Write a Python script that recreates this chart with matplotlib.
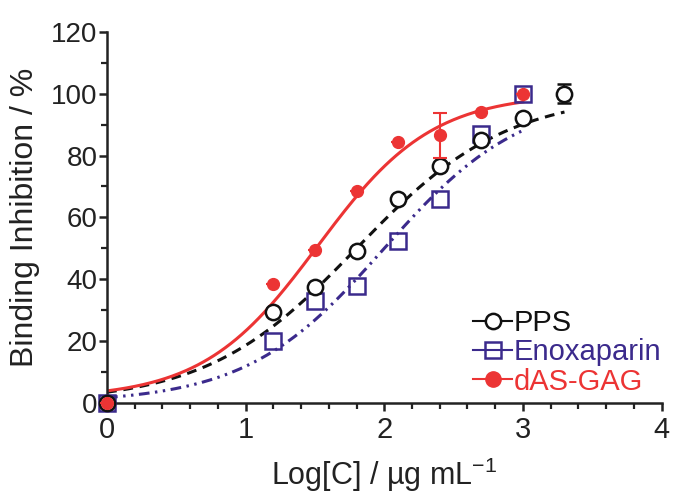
import numpy as np
import matplotlib
matplotlib.use("Agg")
import matplotlib.pyplot as plt
from matplotlib.ticker import MultipleLocator

plt.rcParams['font.family'] = ['Liberation Sans', 'DejaVu Sans']
plt.rcParams['mathtext.fontset'] = 'custom'
plt.rcParams['mathtext.rm'] = 'Liberation Sans'
plt.rcParams['mathtext.it'] = 'Liberation Sans:italic'

# Data (log concentration, % inhibition)
pps_x = [0, 1.2, 1.5, 1.8, 2.1, 2.4, 2.7, 3.0, 3.3]
pps_y = [0, 29.5, 37.5, 49, 66, 76.5, 85, 92, 100]
pps_err = [0, 0, 0, 0, 0, 0, 0, 0, 3]

enox_x = [0, 1.2, 1.5, 1.8, 2.1, 2.4, 2.7, 3.0]
enox_y = [0, 20, 33, 38, 52.5, 66, 87, 100]

das_x = [0, 1.2, 1.5, 1.8, 2.1, 2.4, 2.7, 3.0]
das_y = [0, 38.5, 49.5, 68.5, 84.5, 86.5, 94, 100]
das_err = [0, 0, 0, 0, 0, 7.3, 0, 0]

# Fitted sigmoid parameters (bottom, top, logEC50, hill slope, x-end)
pps_fit = (0, 100, 1.8, 0.8, 3.3)
enox_fit = (0, 100, 2.0, 0.87, 3.0)
das_fit = (1.5, 100, 1.52, 1.05, 3.0)

red = '#EC3434'
purple = '#3B2A8C'
black = '#111111'


def hill(p):
    b, t, ec, h, xe = p
    xs = np.linspace(0, xe, 300)
    return xs, b + (t - b) / (1 + 10 ** ((ec - xs) * h))


fig = plt.figure(figsize=(6.88, 4.97), dpi=100)
ax = fig.add_axes([0.1555, 0.189, 0.806, 0.747])

xs, ys = hill(pps_fit)
ax.plot(xs, ys, color=black, lw=2.2, ls=(0, (3.2, 2.2)), zorder=2)
xs, ys = hill(enox_fit)
ax.plot(xs, ys, color=purple, lw=2.2, ls=(0, (3.5, 1.8, 0.8, 1.8, 0.8, 1.8)), zorder=2)
xs, ys = hill(das_fit)
ax.plot(xs, ys, color=red, lw=2.2, ls='-', zorder=2)

ax.errorbar(pps_x, pps_y, yerr=pps_err, fmt='o', ms=11, mfc='white', mec=black,
            mew=1.8, ecolor=black, elinewidth=1.5, capsize=5, capthick=1.5,
            clip_on=False, zorder=4)
ax.plot(enox_x, enox_y, 's', ms=11, mfc='none', mec=purple, mew=1.8,
        clip_on=False, zorder=3)
ax.errorbar(das_x, das_y, yerr=das_err, fmt='o', ms=8.5, mfc=red, mec=red,
            ecolor=red, elinewidth=1.5, capsize=5, capthick=1.5,
            clip_on=False, zorder=5)

# legend handles
h1, = ax.plot([], [], ls='-', color=black, marker='o', ms=11, mfc='white', mec=black, mew=1.8, lw=1.5)
h2, = ax.plot([], [], ls='-', color=purple, marker='s', ms=11, mfc='none', mec=purple, mew=1.8, lw=1.5)
h3, = ax.plot([], [], ls='-', color=red, marker='o', ms=11, mfc=red, mec=red, lw=1.5)
leg = ax.legend([h1, h2, h3], ['PPS', 'Enoxaparin', 'dAS-GAG'], loc='lower right',
                bbox_to_anchor=(1.0, 0.02), frameon=False, fontsize=21,
                handlelength=1.35, handletextpad=0.05, labelspacing=0.05,
                borderaxespad=0.0, borderpad=0.0)
for t, c in zip(leg.get_texts(), [black, purple, red]):
    t.set_color(c)

ax.set_xlim(0, 4)
ax.set_ylim(0, 120)
ax.xaxis.set_major_locator(MultipleLocator(1))
ax.xaxis.set_minor_locator(MultipleLocator(0.2))
ax.yaxis.set_major_locator(MultipleLocator(20))
ax.yaxis.set_minor_locator(MultipleLocator(10))
for s in ['top', 'right']:
    ax.spines[s].set_visible(False)
for s in ['left', 'bottom']:
    ax.spines[s].set_linewidth(1.8)
    ax.spines[s].set_color('#222222')
ax.tick_params(which='major', direction='out', length=6, width=1.8,
               colors='#222222')
ax.tick_params(which='minor', direction='out', length=4, width=1.6, colors='#222222')
ax.tick_params(axis='x', which='major', labelsize=21, pad=3)
ax.tick_params(axis='y', which='major', labelsize=20, pad=1)

ax.set_xlabel(r'Log[C] / µg mL$^{-1}$', fontsize=22, labelpad=9, color='#222222')
ax.set_ylabel('Binding Inhibition / %', fontsize=23, labelpad=8, color='#222222')

fig.savefig('out.png', dpi=100)
